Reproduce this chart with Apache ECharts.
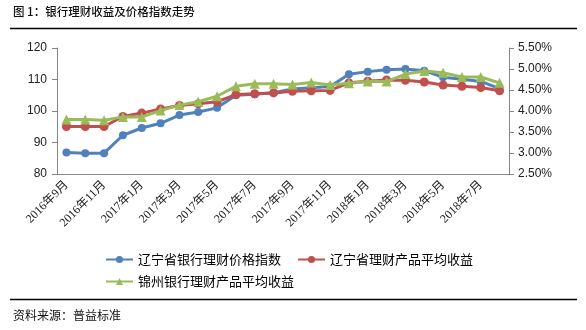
<!DOCTYPE html>
<html>
<head>
<meta charset="utf-8">
<script src="https://cdn.jsdelivr.net/npm/echarts@6/dist/echarts.min.js"></script>
<style>
html,body{margin:0;padding:0;background:#fff;}
#c{width:586px;height:330px;}
</style>
</head>
<body>
<div id="c"></div>
<script>
const categories = ['2016年9月','2016年10月','2016年11月','2016年12月','2017年1月','2017年2月','2017年3月','2017年4月','2017年5月','2017年6月','2017年7月','2017年8月','2017年9月','2017年10月','2017年11月','2017年12月','2018年1月','2018年2月','2018年3月','2018年4月','2018年5月','2018年6月','2018年7月','2018年8月'];
const priceIndex = [86.8, 86.6, 86.6, 92.3, 94.6, 96.1, 98.7, 99.7, 101.0, 105.0, 105.3, 105.8, 107.0, 107.4, 107.8, 111.7, 112.5, 113.1, 113.3, 112.8, 110.7, 110.1, 109.4, 107.1];
const liaoningYield = [3.63, 3.63, 3.63, 3.87, 3.95, 4.05, 4.13, 4.17, 4.22, 4.39, 4.41, 4.43, 4.47, 4.48, 4.49, 4.67, 4.71, 4.74, 4.73, 4.69, 4.62, 4.59, 4.56, 4.48];
const jinzhouYield = [3.80, 3.80, 3.78, 3.86, 3.86, 4.01, 4.14, 4.22, 4.35, 4.59, 4.65, 4.65, 4.63, 4.68, 4.62, 4.66, 4.70, 4.70, 4.88, 4.95, 4.91, 4.81, 4.81, 4.67];
const seriesNames = ['辽宁省银行理财价格指数', '辽宁省理财产品平均收益', '锦州银行理财产品平均收益'];
const titleText = '图 1：银行理财收益及价格指数走势';
const sourceText = '资料来源：普益标准';

const chart = echarts.init(document.getElementById('c'));
const cjk = '"Noto Sans CJK SC", sans-serif';
const axisColor = '#868686';
chart.setOption({
  animation: false,
  backgroundColor: '#fff',
  grid: {left: 57, right: 77, top: 48, bottom: 156, containLabel: false},
  graphic: [
    {type: 'text', left: 13, top: 6, style: {text: titleText, font: '500 11.5px ' + cjk, fill: '#111'}},
    {type: 'line', shape: {x1: 10, y1: 28.5, x2: 577, y2: 28.5}, style: {stroke: '#000', lineWidth: 1.5}},
    {type: 'line', shape: {x1: 10, y1: 299.5, x2: 577, y2: 299.5}, style: {stroke: '#000', lineWidth: 1.5}},
    {type: 'text', left: 13, top: 309, style: {text: sourceText, font: '12px ' + cjk, fill: '#111'}}
  ],
  legend: [
    {data: [seriesNames[0], seriesNames[1]], left: 100, top: 248, itemWidth: 27, itemHeight: 9, itemGap: 16,
     textStyle: {fontFamily: cjk, fontSize: 13, color: '#000'}},
    {data: [seriesNames[2]], left: 100, top: 270, itemWidth: 27, itemHeight: 9,
     textStyle: {fontFamily: cjk, fontSize: 13, color: '#000'}}
  ],
  xAxis: {
    type: 'category', data: categories, boundaryGap: true,
    axisLine: {lineStyle: {color: axisColor, width: 1}},
    axisTick: {interval: 1, length: 5, lineStyle: {color: axisColor}},
    axisLabel: {interval: 1, rotate: 45, margin: 9, fontFamily: '"Liberation Serif", "Noto Sans CJK SC", serif', fontSize: 12, color: '#222'},
    splitLine: {show: false}
  },
  yAxis: [
    {type: 'value', min: 80, max: 120, interval: 10,
     axisLine: {show: true, lineStyle: {color: axisColor}},
     axisTick: {show: true, length: 5, lineStyle: {color: axisColor}},
     axisLabel: {fontFamily: '"Liberation Sans", Arial, sans-serif', fontSize: 12, color: '#222', margin: 10},
     splitLine: {show: false}},
    {type: 'value', min: 2.5, max: 5.5, interval: 0.5, position: 'right',
     axisLine: {show: true, lineStyle: {color: axisColor}},
     axisTick: {show: true, length: 5, lineStyle: {color: axisColor}},
     axisLabel: {fontFamily: '"Liberation Sans", Arial, sans-serif', fontSize: 12, color: '#222', margin: 9,
       formatter: v => v.toFixed(2) + '%'},
     splitLine: {show: false}}
  ],
  series: [
    {name: seriesNames[0], type: 'line', yAxisIndex: 0, data: priceIndex, symbol: 'circle', symbolSize: 8,
     itemStyle: {color: '#4F81BD'}, lineStyle: {width: 3, color: '#4F81BD'}, z: 2},
    {name: seriesNames[1], type: 'line', yAxisIndex: 1, data: liaoningYield, symbol: 'circle', symbolSize: 9,
     itemStyle: {color: '#C0504D'}, lineStyle: {width: 3, color: '#C0504D'}, z: 3},
    {name: seriesNames[2], type: 'line', yAxisIndex: 1, data: jinzhouYield, symbol: 'triangle', symbolSize: 10,
     itemStyle: {color: '#9BBB59'}, lineStyle: {width: 3, color: '#9BBB59'}, z: 4}
  ]
});
</script>
</body>
</html>
